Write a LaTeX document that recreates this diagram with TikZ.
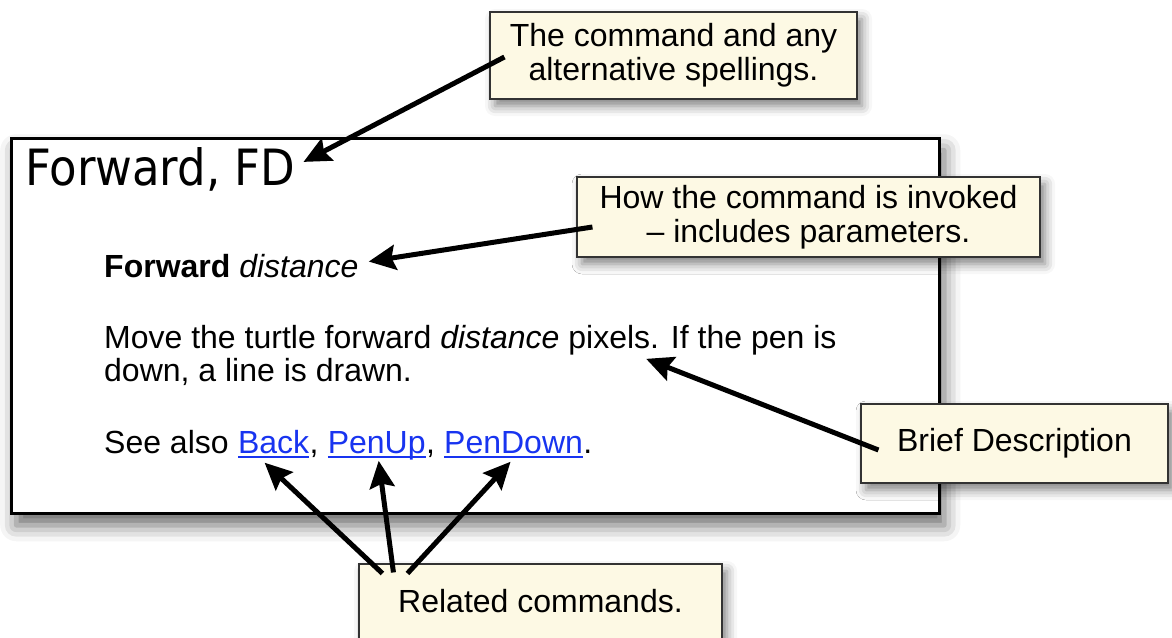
\documentclass[tikz,border=0pt]{standalone}
\usepackage{fontspec}
\setmainfont{Liberation Sans}
\newfontfamily\headfont[FakeStretch=0.9]{DejaVu Sans}
\usepackage{tikz}
\usetikzlibrary{arrows.meta,calc,positioning,shadows.blur}
\definecolor{notefill}{RGB}{253,249,228}
\definecolor{linkblue}{RGB}{24,52,240}
\newcommand{\linkword}[1]{\textcolor{linkblue}{\setbox0\hbox{#1}\rlap{\rule[-4.5pt]{\wd0}{2pt}}\box0}}
\tikzset{
	panel/.style={draw=black, line width=2.5pt, fill=white, anchor=north west, blur shadow={shadow xshift=5pt, shadow yshift=-12pt, shadow blur radius=16pt, shadow opacity=60}},
	note/.style={draw=black!80, line width=1.1pt, fill=notefill, align=center, inner sep=0pt, font=\fontsize{32}{34}\selectfont, blur shadow={shadow xshift=5pt, shadow yshift=-7pt, shadow blur radius=10pt, shadow opacity=50}},
	txt/.style={anchor=base west, inner sep=0pt, font=\fontsize{32}{34}\selectfont},
	pointer/.style={-{Stealth[length=27pt,width=25pt,inset=4pt]}, line width=5pt, color=black}
}
\begin{document}
\begin{tikzpicture}[x=1pt,y=-1pt]
		\useasboundingbox (0,0) rectangle (1172,637);
		%%%help page
		\node[panel, minimum width=928pt, minimum height=375pt] (page) at (10,137) {};
		\node[anchor=base west, inner sep=0pt, font=\headfont\fontsize{50}{50}\selectfont] (title) at (25,185) {Forward, FD};
		\node[txt] (usage) at (104,277) {\textbf{Forward} \textit{distance}};
		\node[txt] (move) at (104,348) {Move the turtle forward \textit{distance} pixels. If the pen is};
		\node[txt] (down) at (104,381) {down, a line is drawn.};
		\node[txt] (see) at (104,453) {See also};
		\node[txt, right=8.9pt of see.base east, anchor=base west] (back) {\linkword{Back}};
		\node[txt] (c1) at (back.base east) {,};
		\node[txt, right=8.9pt of c1.base east, anchor=base west] (penup) {\linkword{PenUp}};
		\node[txt] (c2) at (penup.base east) {,};
		\node[txt, right=8.9pt of c2.base east, anchor=base west] (pendown) {\linkword{PenDown}};
		\node[txt] (stop) at (pendown.base east) {.};
		%%%callouts
		\node[note, minimum width=367pt, minimum height=87pt] (cmd) at (673.5,55.5) {The command and any\\alternative spellings.};
		\node[note, minimum width=463pt, minimum height=80pt] (how) at (808.5,217) {How the command is invoked\\– includes parameters.};
		\node[note, minimum width=307pt, minimum height=79pt] (brief) at (1014.5,443.5) {Brief Description};
		\node[note, minimum width=363pt, text height=24pt, text depth=48pt, inner ysep=24pt, anchor=base] (rel) at (540.5,612) {Related commands.};
		%%%pointers
		\draw[pointer] ($(cmd.west)+(15,1.5)$) -- ($(title.east)+(8,-7)$);
		\draw[pointer] ($(how.west)+(16,10)$) -- ($(usage.east)+(10,-4)$);
		\draw[pointer] ($(brief.west)+(18,6.5)$) -- ($(move.south west)!0.74!(move.south east)+(0,4)$);
		\draw[pointer] ($(rel.north west)+(24,10)$) -- ($(back.south)+(-9,5)$);
		\draw[pointer] ($(rel.north west)+(35,9)$) -- ($(penup.south)+(2,1)$);
		\draw[pointer] ($(rel.north west)+(49,10)$) -- ($(pendown.south)+(-3,4)$);
	\end{tikzpicture}
\end{document}
